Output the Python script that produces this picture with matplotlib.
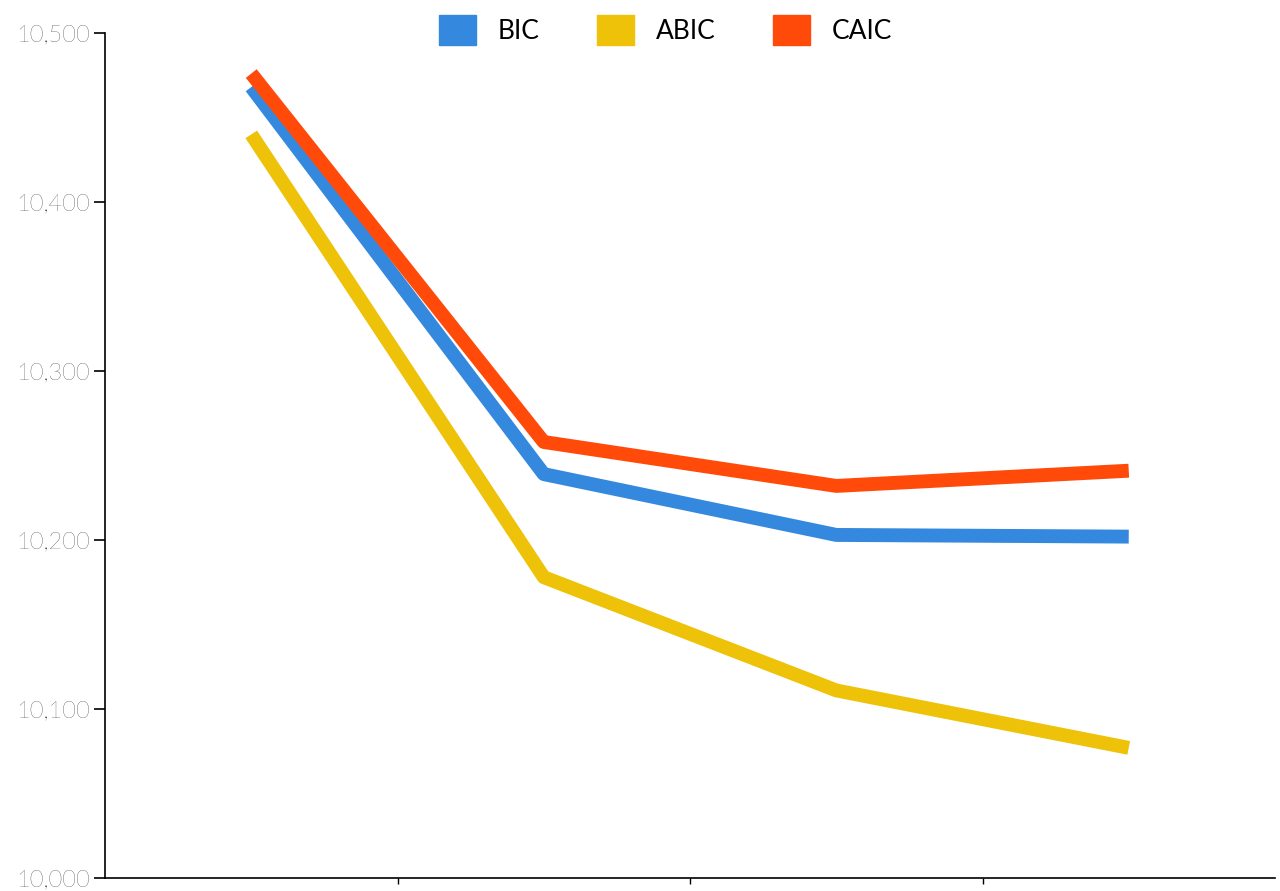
import matplotlib
matplotlib.use("Agg")
import matplotlib.pyplot as plt
from matplotlib.patches import Patch
from matplotlib.ticker import FuncFormatter

plt.rcParams['font.family'] = ['Lato', 'DejaVu Sans']

categories = ["1", "2", "3", "4"]
bic = [10468, 10239, 10203, 10202]
abic = [10440, 10178, 10111, 10077]
caic = [10476, 10258, 10232, 10241]
series = [("BIC", bic, "#3488DD"), ("ABIC", abic, "#EEC209"), ("CAIC", caic, "#FF4A0A")]

fig = plt.figure(figsize=(12.8, 8.91), dpi=100)
ax = fig.add_axes([105/1280, 1-878/891, 1170/1280, 845/891])
x = [i + 0.5 for i in range(len(categories))]
for name, vals, col in series:
    ax.plot(x, vals, color=col, lw=10, solid_capstyle='butt')
ax.set_xlim(0, 4)
ax.set_ylim(10000, 10500)
ax.set_yticks([10000, 10100, 10200, 10300, 10400, 10500])
ax.yaxis.set_major_formatter(FuncFormatter(lambda v, p: f"{int(v):,}"))
ax.set_xticks([1, 2, 3])
ax.set_xticklabels([])
ax.tick_params(axis='x', length=4, width=1)
ax.tick_params(axis='y', length=8, width=1.2, labelsize=17, pad=3)
for t in ax.get_yticklabels():
    t.set_fontweight('light')
ax.spines['top'].set_visible(False)
ax.spines['right'].set_visible(False)
ax.spines['left'].set_linewidth(1.2)
ax.spines['bottom'].set_linewidth(1.2)
handles = [Patch(color=c, label=n) for n, _, c in series]
fig.legend(handles=handles, loc='upper center', bbox_to_anchor=(0.52, 1.01), ncol=3,
           frameon=False, fontsize=19, handlelength=1.4, handleheight=1.4, columnspacing=2.2)
fig.savefig("out.png", dpi=100)
